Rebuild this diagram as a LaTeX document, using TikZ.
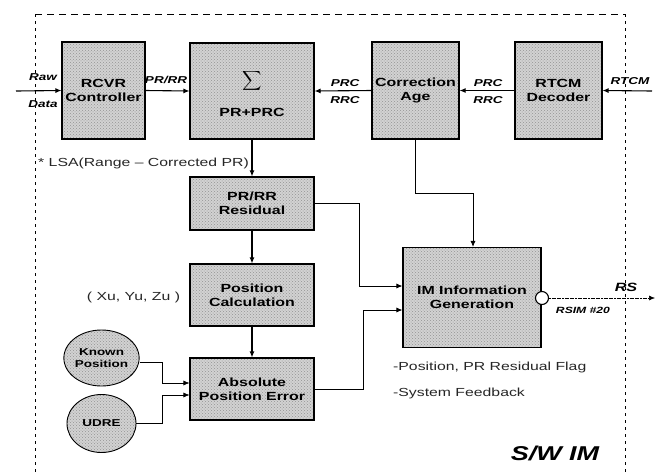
\documentclass[tikz,border=0pt]{standalone}
\usepackage{graphicx}
\usepackage{fontspec}
\setmainfont{Liberation Sans}[FakeStretch=1.35,
  UprightFeatures={FakeStretch=1.35},
  BoldFeatures={FakeStretch=1.35},
  ItalicFeatures={FakeStretch=1.35},
  BoldItalicFeatures={FakeStretch=1.35}]
\usetikzlibrary{arrows.meta,patterns,shapes.geometric}
\tikzset{
  blk/.style={draw, line width=1.1pt, preaction={fill=gray!35}, pattern=crosshatch dots, pattern color=gray!85,
    align=center, inner sep=0pt, font=\fontsize{11.8}{14}\selectfont\bfseries},
  circ/.style={blk, ellipse, line width=0.9pt, font=\fontsize{10}{12}\selectfont\bfseries},
  main/.style={line width=1.1pt, -{Latex[length=6pt,width=5pt]}},
  thin/.style={line width=0.6pt, -{Latex[length=6pt,width=5pt]}},
  lbl/.style={font=\fontsize{10}{11}\selectfont\bfseries\itshape, inner sep=0pt},
  txt/.style={font=\fontsize{11.7}{13}\selectfont, inner sep=0pt, text=black!85}
}
\begin{document}
\begin{tikzpicture}[x=1pt,y=-1pt]
\useasboundingbox (0,0) rectangle (657,475);
% frame
\draw[line width=0.9pt, dash pattern=on 7pt off 5pt] (35,14) -- (625,14);
\draw[line width=0.9pt, dash pattern=on 3pt off 4pt] (35,14) -- (35,475);
\draw[line width=0.9pt, dash pattern=on 3pt off 4pt] (625,14) -- (625,475);
% blocks
\node[blk, minimum width=83pt, minimum height=97pt] (rcvr) at (103.5,90.5) {RCVR\\Controller};
\node[blk, minimum width=124pt, minimum height=96pt] (sum) at (252,91) {};
\node[inner sep=0pt] at (252,81) {\scalebox{1.35}{$\displaystyle\sum$}};
\node[font=\fontsize{11.8}{14}\selectfont\bfseries, inner sep=0pt] at (252,112) {PR+PRC};
\node[blk, minimum width=87pt, minimum height=97pt] (cage) at (415.5,90.5) {Correction\\Age};
\node[blk, minimum width=87pt, minimum height=97pt] (rtcm) at (558.5,90.5) {RTCM\\Decoder};
\node[blk, minimum width=124pt, minimum height=53pt] (resid) at (252,203.5) {PR/RR\\Residual};
\node[blk, minimum width=124pt, minimum height=62pt] (pcalc) at (252,295) {Position\\Calculation};
\node[blk, minimum width=124pt, minimum height=62pt] (ape) at (252,389) {Absolute\\Position Error};
\node[blk, minimum width=138pt, minimum height=100pt] (im) at (472,297.5) {IM Information\\Generation};
\node[circ, minimum width=69pt, minimum height=56pt] (known) at (101.5,358) {Known\\Position};
\node[circ, minimum width=69pt, minimum height=58pt] (udre) at (101.5,423.5) {UDRE};
\node[draw, circle, fill=white, line width=1.1pt, minimum size=13pt, inner sep=0pt] (oc) at (542,298) {};
% coordinates
\coordinate (rawin) at (16,91);
\coordinate (rtcmin) at (652,91);
\coordinate (rsout) at (655,298);
\coordinate (c1) at (473,193);
\coordinate (j1) at (359,286);
\coordinate (j2) at (363,310);
\coordinate (k1) at (162,383);
\coordinate (u1) at (162,395);
% connectors
\draw[main] (rawin) -- (rcvr.west);
\draw[main] (rcvr.east) -- (sum.west);
\draw[main] (cage.west) -- (sum.east);
\draw[main] (rtcm.west) -- (cage.east);
\draw[main] (rtcmin) -- (rtcm.east);
\draw[main] (sum.south) -- (resid.north);
\draw[main] (resid.south) -- (pcalc.north);
\draw[main] (pcalc.south) -- (ape.north);
\draw[thin, line width=0.8pt] (cage.south) |- (c1) -- (c1 |- im.north);
\draw[thin, line width=0.8pt] (resid.east) -| (j1) -- (j1 -| im.west);
\draw[thin, line width=0.8pt] (ape.east) -| (j2) -- (j2 -| im.west);
\draw[thin] ([yshift=-4pt]known.east) -| (k1) -- (k1 -| ape.west);
\draw[thin] (udre.east) -| (u1) -- (u1 -| ape.west);
\draw[thin, dash pattern=on 2pt off 0.6pt] (oc.east) -- (rsout);
% labels
\node[lbl] at (43,77) {Raw};
\node[lbl] at (43,104) {Data};
\node[lbl] at (166,80) {PR/RR};
\node[lbl] at (345,83) {PRC};
\node[lbl] at (345,100) {RRC};
\node[lbl] at (488,83) {PRC};
\node[lbl] at (488,100) {RRC};
\node[lbl] at (630,81) {RTCM};
\node[lbl, font=\fontsize{12}{13}\selectfont\bfseries\itshape] at (626,287) {RS};
\node[lbl, font=\fontsize{9}{10}\selectfont\bfseries\itshape] at (583,310) {RSIM \#20};
\node[txt, anchor=west] at (38,163) {* LSA(Range -- Corrected PR)};
\node[txt] at (133.5,297) {( Xu, Yu, Zu )};
\node[txt, anchor=west] at (393,367) {-Position, PR Residual Flag};
\node[txt, anchor=west] at (393,393) {-System Feedback};
\node[font=\fontsize{20}{22}\selectfont\bfseries\itshape, inner sep=0pt] at (555,453) {S/W IM};
\end{tikzpicture}
\end{document}
